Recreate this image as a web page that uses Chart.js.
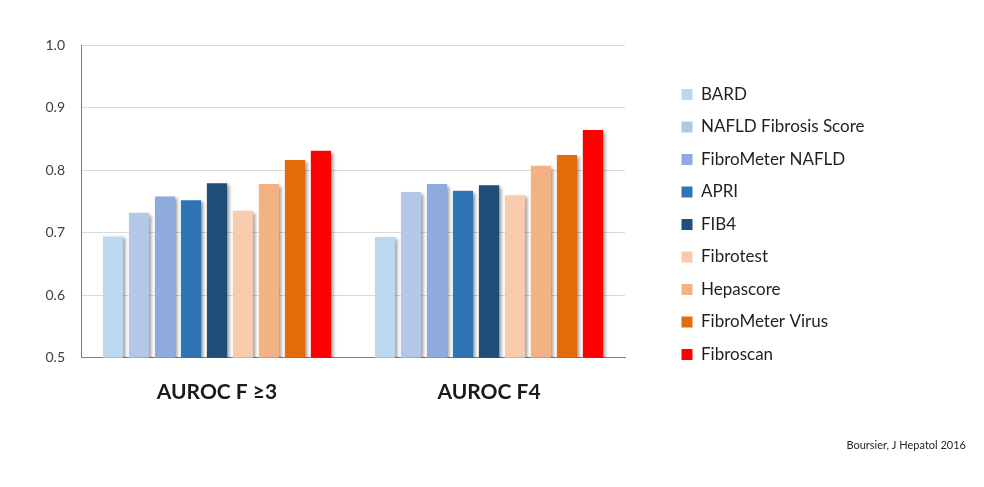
<!DOCTYPE html>
<html>
<head>
<meta charset="utf-8">
<script src="https://cdn.jsdelivr.net/npm/chart.js@4.4.0/dist/chart.umd.min.js"></script>
<style>
  html, body { margin: 0; padding: 0; background: #fff; }
  #wrap { width: 984px; height: 487px; }
</style>
</head>
<body>
<div id="wrap"><canvas id="auroc"></canvas></div>
<script>
const groups = ["AUROC F ≥3", "AUROC F4"];
const scoreNames = [
  "BARD", "NAFLD Fibrosis Score", "FibroMeter NAFLD", "APRI", "FIB4",
  "Fibrotest", "Hepascore", "FibroMeter Virus", "Fibroscan",
];
const scoreColors = [
  "#bdd7ee", "#b4c7e7", "#8faadc", "#2e75b6", "#1f4e79",
  "#f8cbad", "#f4b183", "#e46c0a", "#ff0000",
];

// AUROC per score: [F>=3, F4]
const bard = [0.694, 0.693];
const nafldScore = [0.732, 0.765];
const fibrometerNafld = [0.758, 0.778];
const apri = [0.752, 0.767];
const fib4 = [0.779, 0.776];
const fibrotest = [0.735, 0.760];
const hepascore = [0.778, 0.807];
const fibrometerVirus = [0.816, 0.824];
const fibroscan = [0.831, 0.864];

const yTicks = [0.5, 0.6, 0.7, 0.8, 0.9, 1.0];

const seriesValues = [
  bard, nafldScore, fibrometerNafld, apri, fib4,
  fibrotest, hepascore, fibrometerVirus, fibroscan,
];

const font = "Lato";

const barShadow = {
  id: "barShadow",
  beforeDatasetsDraw: (chart) => {
    const ctx = chart.ctx;
    ctx.save();
    ctx.shadowColor = "rgba(0,0,0,0.35)";
    ctx.shadowOffsetX = 3;
    ctx.shadowOffsetY = 2;
    ctx.shadowBlur = 3;
  },
  afterDatasetsDraw: (chart) => {
    chart.ctx.restore();
  },
};

// hidden spacer axes: they keep their width in the layout but are not drawn
const spacer = (weight, widthFn) => ({
  type: "linear",
  position: "right",
  display: false,
  weight: weight,
  afterFit: (s) => { s.width = widthFn(s); },
});

const chart = new Chart(document.getElementById("auroc"), {
  type: "bar",
  data: {
    labels: groups,
    datasets: scoreNames.map((name, i) => ({
      label: name,
      data: seriesValues[i],
      backgroundColor: scoreColors[i],
      borderWidth: 0,
      barPercentage: 0.78,
      categoryPercentage: 0.86,
    })),
  },
  options: {
    responsive: true,
    maintainAspectRatio: false,
    animation: false,
    layout: {
      padding: { top: 45, right: 18, bottom: 0, left: 0 },
    },
    scales: {
      x: {
        grid: { display: false },
        border: { color: "#7f7f7f", width: 1 },
        ticks: {
          color: "#1a1a1a",
          padding: 14,
          font: { family: font, size: 21, weight: "bold" },
        },
        afterFit: (s) => { s.height = 56; },
      },
      y: {
        min: 0.5,
        max: 1.0,
        afterBuildTicks: (s) => { s.ticks = yTicks.map((v) => ({ value: v })); },
        ticks: {
          color: "#404040",
          padding: 16,
          font: { family: font, size: 14 },
          callback: (v) => Number(v).toFixed(1),
        },
        grid: { color: "#d9d9d9", drawTicks: false },
        border: { color: "#7f7f7f", width: 1 },
        afterFit: (s) => { s.width = 81; },
      },
      gapIn: spacer(0, () => 41),
      gapOut: spacer(2000, (s) => {
        const lw = s.chart.legend ? s.chart.legend.width : 213;
        return Math.max(0, 300 - lw);
      }),
    },
    plugins: {
      legend: {
        position: "right",
        align: "start",
        title: { display: true, text: "", font: { size: 10 }, padding: { top: 13.5, bottom: 0 } },
        labels: {
          boxWidth: 11,
          boxHeight: 11,
          padding: 15.5,
          color: "#1f1f1f",
          font: { family: font, size: 17 },
        },
      },
      subtitle: {
        display: true,
        text: "Boursier, J Hepatol 2016",
        position: "bottom",
        align: "end",
        color: "#262626",
        font: { family: font, size: 11 },
        padding: { top: 25, bottom: 35 },
      },
      tooltip: { enabled: false },
    },
  },
  plugins: [barShadow],
});
</script>
</body>
</html>
